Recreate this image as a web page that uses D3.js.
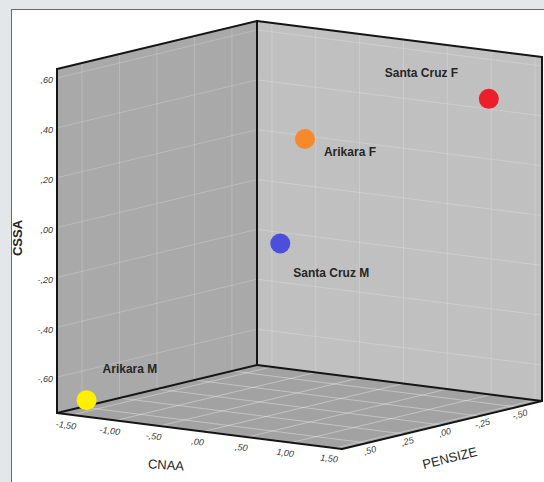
<!DOCTYPE html>
<html>
<head>
<meta charset="utf-8">
<script src="https://cdn.jsdelivr.net/npm/d3@7/dist/d3.min.js"></script>
<style>
  html, body { margin: 0; padding: 0; background: #e3e7ea; }
  svg { display: block; }
  text { font-family: "Liberation Sans", Arial, sans-serif; }
</style>
</head>
<body>
<svg id="chart" width="544" height="482"></svg>
<script>
// ---- data ----
const groups   = ["Arikara M", "Santa Cruz M", "Arikara F", "Santa Cruz F"];
const cnaa     = [-1.43, -1.29, 0.53, 1.43];
const pensize  = [0.61, -0.60, 0.30, -0.40];
const cssa     = [-0.69, -0.23, 0.40, 0.50];
const colors   = ["#fff000", "#4b4fdb", "#f7892d", "#ec1f2a"];

const cnaaExtent    = [-1.67, 1.58];
const pensizeExtent = [-0.667, 0.667];
const cssaExtent    = [-0.744, 0.636];

const cnaaTicks     = [-1.5, -1.0, -0.5, 0, 0.5, 1.0, 1.5];
const cnaaLabels    = ["-1,50", "-1,00", "-,50", ",00", ",50", "1,00", "1,50"];
const pensizeTicks  = [-0.5, -0.25, 0, 0.25, 0.5];
const pensizeLabels = ["-,50", "-,25", ",00", ",25", ",50"];
const cssaTicks     = [-0.6, -0.4, -0.2, 0, 0.2, 0.4, 0.6];
const cssaLabels    = ["-,60", "-,40", "-,20", ",00", ",20", ",40", ",60"];

// label offsets (layout)
const labelOffsets = [[16, -30], [13, 30], [19, 14], [-104, -25]];

// ---- scales / projection ----
const fx = d3.scaleLinear().domain(cnaaExtent).range([0, 1]);
const fy = d3.scaleLinear().domain([pensizeExtent[1], pensizeExtent[0]]).range([0, 1]);
const fz = d3.scaleLinear().domain(cssaExtent).range([0, 1]);

const origin = [57, 413];
const EX = [285, 36], EY = [200, -48], EZ = [0, -344];
function P(x, y, z) {
  const a = fx(x), b = fy(y), c = fz(z);
  return [origin[0] + a * EX[0] + b * EY[0] + c * EZ[0],
          origin[1] + a * EX[1] + b * EY[1] + c * EZ[1]];
}

const svg = d3.select("#chart");

// panel
svg.append("rect").attr("x", 11.5).attr("y", 9.5).attr("width", 540).attr("height", 480)
  .attr("fill", "#fff").attr("stroke", "#6a6a6a").attr("stroke-width", 1);

const [x0, x1] = cnaaExtent, [y0, y1] = pensizeExtent, [z0, z1] = cssaExtent;
const line = d3.line();

// walls
svg.append("path").attr("d", line([P(x0,y1,z0), P(x0,y0,z0), P(x0,y0,z1), P(x0,y1,z1)]) + "Z")
  .attr("fill", "#a9a9a9");
svg.append("path").attr("d", line([P(x0,y0,z0), P(x1,y0,z0), P(x1,y0,z1), P(x0,y0,z1)]) + "Z")
  .attr("fill", "#c0c0c0");
svg.append("path").attr("d", line([P(x0,y1,z0), P(x1,y1,z0), P(x1,y0,z0), P(x0,y0,z0)]) + "Z")
  .attr("fill", "#a2a2a2");

// gridlines
const grid = svg.append("g").attr("stroke", "#ffffff").attr("stroke-opacity", 0.2)
  .attr("stroke-width", 1).attr("fill", "none");
cssaTicks.forEach(t => {
  grid.append("path").attr("d", line([P(x0,y1,t), P(x0,y0,t)]));
  grid.append("path").attr("d", line([P(x0,y0,t), P(x1,y0,t)]));
});
pensizeTicks.forEach(t => {
  grid.append("path").attr("d", line([P(x0,t,z0), P(x0,t,z1)]));
  grid.append("path").attr("d", line([P(x0,t,z0), P(x1,t,z0)])).attr("stroke-opacity", 0.35);
});
cnaaTicks.forEach(t => {
  grid.append("path").attr("d", line([P(t,y0,z0), P(t,y0,z1)]));
  grid.append("path").attr("d", line([P(t,y1,z0), P(t,y0,z0)])).attr("stroke-opacity", 0.35);
});

// edges
const edges = svg.append("g").attr("stroke", "#151515").attr("stroke-width", 2)
  .attr("fill", "none").attr("stroke-linecap", "round");
[
  [P(x0,y1,z0), P(x0,y1,z1)],
  [P(x0,y1,z1), P(x0,y0,z1)],
  [P(x0,y0,z1), P(x1,y0,z1)],
  [P(x0,y0,z0), P(x0,y0,z1)],
  [P(x1,y0,z0), P(x1,y0,z1)],
  [P(x0,y1,z0), P(x1,y1,z0)],
  [P(x1,y1,z0), P(x1,y0,z0)],
  [P(x0,y1,z0), P(x0,y0,z0)],
  [P(x0,y0,z0), P(x1,y0,z0)]
].forEach(seg => edges.append("path").attr("d", line(seg)));

// tick labels
const tl = svg.append("g").attr("fill", "#3a3a3a").attr("font-size", 9).attr("font-style", "italic");
cssaTicks.forEach((t, i) => {
  const p = P(x0, y1, t);
  tl.append("text").attr("x", p[0] - 4).attr("y", p[1] + 3)
    .attr("text-anchor", "end").attr("dominant-baseline", "middle").text(cssaLabels[i]);
});
cnaaTicks.forEach((t, i) => {
  const p = P(t, y1, z0);
  tl.append("text").attr("transform", `translate(${p[0] - 6},${p[1] + 11}) rotate(7)`)
    .attr("text-anchor", "middle").attr("dominant-baseline", "middle").text(cnaaLabels[i]);
});
pensizeTicks.forEach((t, i) => {
  const p = P(x1, t, z0);
  tl.append("text").attr("transform", `translate(${p[0] + 3},${p[1] + 8}) rotate(-16)`)
    .attr("text-anchor", "middle").attr("dominant-baseline", "middle").text(pensizeLabels[i]);
});

// axis titles
const at = svg.append("g").attr("fill", "#262626").attr("font-size", 13);
at.append("text").attr("transform", "translate(19,238) rotate(-90)")
  .attr("text-anchor", "middle").attr("dominant-baseline", "middle").attr("font-weight", "bold")
  .text("CSSA");
at.append("text").attr("transform", "translate(166,466) rotate(4)")
  .attr("text-anchor", "middle").attr("dominant-baseline", "middle").text("CNAA");
at.append("text").attr("transform", "translate(450,459) rotate(-14)")
  .attr("text-anchor", "middle").attr("dominant-baseline", "middle").text("PENSIZE");

// points
const pts = groups.map((g, i) => ({ g, i, p: P(cnaa[i], pensize[i], cssa[i]) }));
svg.append("g").selectAll("circle").data(pts).join("circle")
  .attr("cx", d => d.p[0]).attr("cy", d => d.p[1]).attr("r", 10)
  .attr("fill", d => colors[d.i]);
svg.append("g").selectAll("text").data(pts).join("text")
  .attr("x", d => d.p[0] + labelOffsets[d.i][0])
  .attr("y", d => d.p[1] + labelOffsets[d.i][1])
  .attr("dominant-baseline", "middle")
  .attr("font-size", 12).attr("font-weight", "bold").attr("fill", "#262626")
  .text(d => d.g);
</script>
</body>
</html>
